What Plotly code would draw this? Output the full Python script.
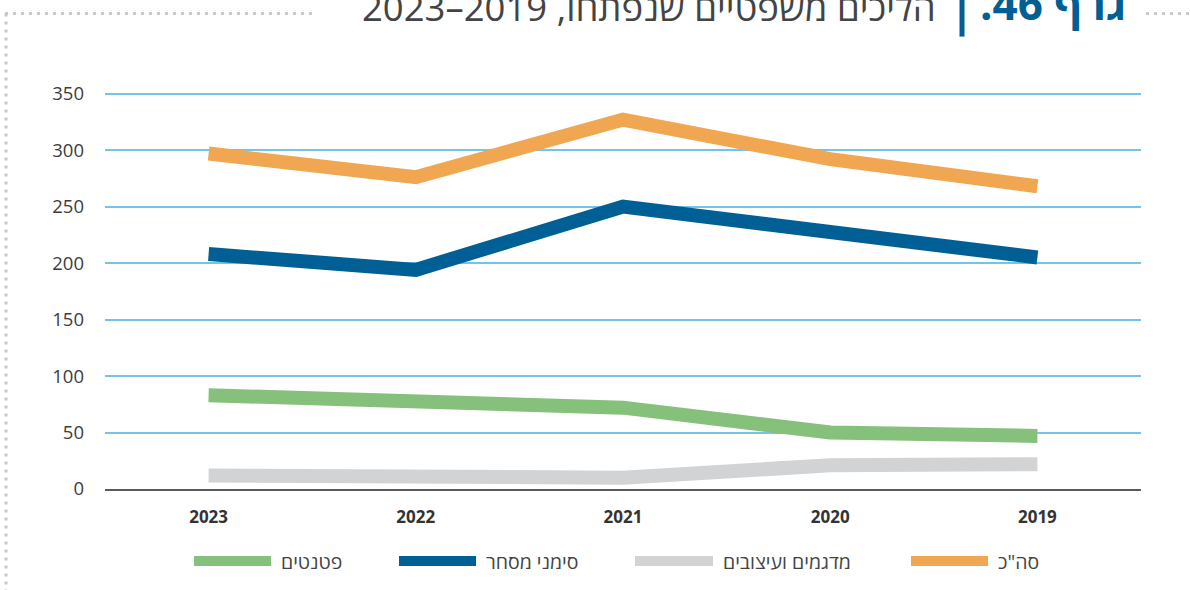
import plotly.graph_objects as go

# Data: legal proceedings opened per year (years shown right-to-left order as in the chart)
years = ["2023", "2022", "2021", "2020", "2019"]
patents = [83, 78, 72, 50, 47]
trademarks = [208, 194, 250, 227, 205]
designs = [12, 12, 10, 21, 22]
total = [297, 276, 327, 292, 268]

series_names = ["פטנטים", "סימני מסחר", "מדגמים ועיצובים", "סה\"כ"]
series_values = [patents, trademarks, designs, total]
series_colors = ["#85C17B", "#006095", "#D1D3D4", "#F1A652"]

y_ticks = [0, 50, 100, 150, 200, 250, 300, 350]

title_main = "הליכים משפטיים שנפתחו, 2019–2023"
title_num = "גרף 46."

# Page geometry (pixels)
W, H = 1190, 590
PLOT_L, PLOT_R = 105, 1141
Y_ZERO_PX, Y_TOP_TICK_PX = 489, 94
Y_MAX = 355
unit = (Y_ZERO_PX - Y_TOP_TICK_PX) / 350.0
PLOT_T = Y_ZERO_PX - Y_MAX * unit


def px_x(px):
    return (px - PLOT_L) / (PLOT_R - PLOT_L)


def px_y(py):
    return (Y_ZERO_PX - py) / (Y_ZERO_PX - PLOT_T)


fig = go.Figure()

for name, vals, color in zip(series_names, series_values, series_colors):
    fig.add_trace(go.Scatter(
        x=years, y=vals, name=name, mode="lines",
        line=dict(color=color, width=14),
        showlegend=False, hoverinfo="x+y+name",
    ))

shapes = []
annotations = []

# Hand-drawn legend: long bar swatches with labels to their right
legend_items = [(194, 271), (399, 476), (635, 713), (911, 988)]
legend_y = 561
for (x0, x1), name, color in zip(legend_items, series_names, series_colors):
    shapes.append(dict(
        type="line", xref="paper", yref="paper",
        x0=px_x(x0), x1=px_x(x1), y0=px_y(legend_y), y1=px_y(legend_y),
        line=dict(color=color, width=10),
    ))
    annotations.append(dict(
        xref="paper", yref="paper", x=px_x(x1 + 8), y=px_y(legend_y),
        xanchor="left", yanchor="middle", showarrow=False,
        text=name, font=dict(family="Open Sans", size=19.5, color="#444444"),
    ))

# Dotted frame around the figure
dot_color = "#C9C9C9"
shapes.append(dict(type="line", xref="paper", yref="paper",
                   x0=px_x(5), x1=px_x(312), y0=px_y(14), y1=px_y(14),
                   line=dict(color=dot_color, width=3, dash="3px,5px")))
shapes.append(dict(type="line", xref="paper", yref="paper",
                   x0=px_x(1146), x1=px_x(1192), y0=px_y(14), y1=px_y(14),
                   line=dict(color=dot_color, width=3, dash="3px,5px")))
shapes.append(dict(type="line", xref="paper", yref="paper",
                   x0=px_x(6), x1=px_x(6), y0=px_y(14), y1=px_y(592),
                   line=dict(color=dot_color, width=3, dash="3px,5px")))

# Title: blue chart number, separator bar, grey heading
shapes.append(dict(type="line", xref="paper", yref="paper",
                   x0=px_x(962), x1=px_x(962), y0=px_y(-5), y1=px_y(37),
                   line=dict(color="#005F94", width=5)))
annotations.append(dict(
    xref="paper", yref="paper", x=px_x(1128), y=px_y(35),
    xanchor="right", yanchor="bottom", showarrow=False,
    text=title_num + "\u200f",
    font=dict(family="Open Sans", size=44, color="#005F94", weight="bold"),
))
annotations.append(dict(
    xref="paper", yref="paper", x=px_x(938), y=px_y(34),
    xanchor="right", yanchor="bottom", showarrow=False,
    text="\u200f" + title_main,
    font=dict(family="Open Sans", size=36.5, color="#444444"),
))

fig.update_layout(
    width=W, height=H,
    margin=dict(l=PLOT_L, r=W - PLOT_R, t=PLOT_T, b=H - Y_ZERO_PX, autoexpand=False),
    paper_bgcolor="white", plot_bgcolor="white",
    shapes=shapes, annotations=annotations,
    showlegend=False,
    xaxis=dict(
        type="category", range=[-0.5, 4.5],
        showgrid=False, zeroline=False,
        showline=True, linecolor="#5A5A5A", linewidth=2,
        ticks="", ticklabelstandoff=12,
        tickfont=dict(family="Open Sans", size=17, color="#333333", weight="bold"),
    ),
    yaxis=dict(
        range=[0, Y_MAX], tickvals=y_ticks,
        showgrid=True, gridcolor="#74C4E8", gridwidth=1.5,
        zeroline=False, showline=False,
        ticks="", ticklabelstandoff=20,
        tickfont=dict(family="Open Sans", size=18.5, color="#3C3C3C"),
    ),
)

fig.write_html("out.html")
